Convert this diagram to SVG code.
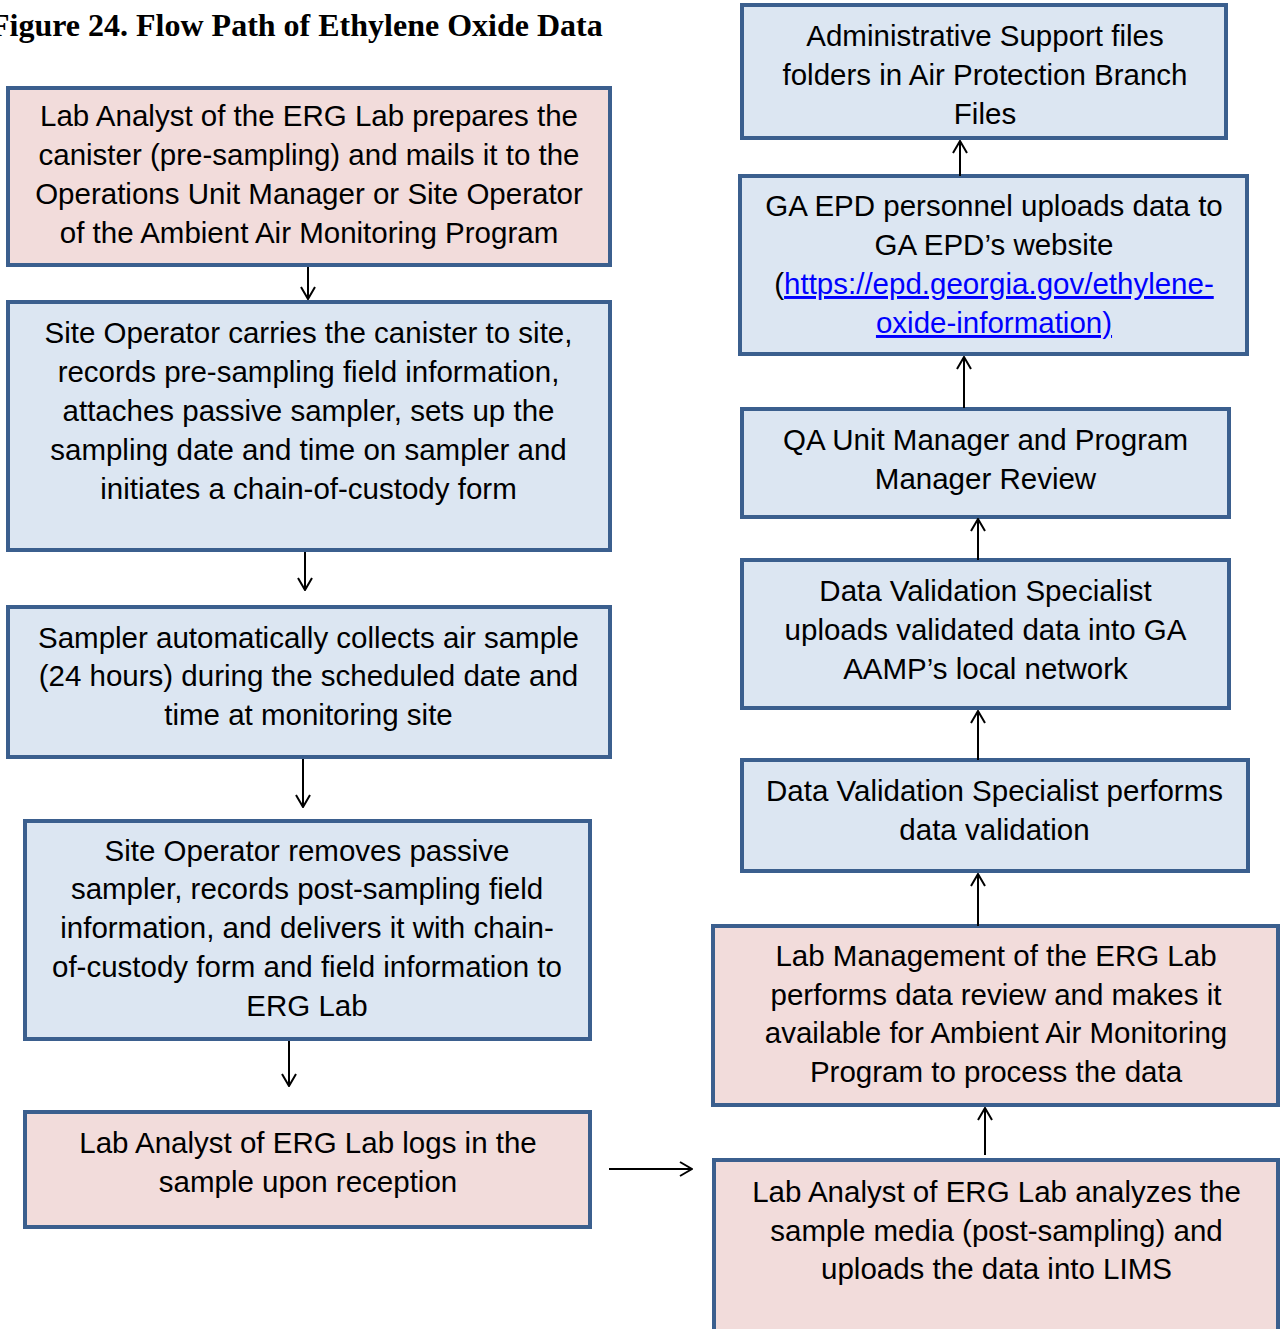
<svg xmlns="http://www.w3.org/2000/svg" width="1285" height="1329" viewBox="0 0 1285 1329">
<style>
.box{stroke:#3B5F8E;stroke-width:4}
.blue{fill:#DCE6F2}
.pink{fill:#F2DCDB}
.t{font-family:"Liberation Sans",Arial,sans-serif;font-size:29.5px;fill:#000;text-anchor:middle}
.title{font-family:"Liberation Serif","Times New Roman",serif;font-size:32px;font-weight:bold;fill:#000}
.link{fill:#0000FF;text-decoration:underline}
.conn{stroke:#000;stroke-width:2;fill:none}
</style>
<defs>
<marker id="ah" viewBox="0 0 14 16" refX="13" refY="8" markerWidth="14" markerHeight="16" markerUnits="userSpaceOnUse" orient="auto">
<path d="M1,1 L13,8 L1,15" fill="none" stroke="#000" stroke-width="2"/>
</marker>
</defs>
<text class="title" x="-10" y="36">Figure 24. Flow Path of Ethylene Oxide Data</text>

<g id="n1"><rect class="box pink" x="8" y="88" width="602" height="177"/>
<text class="t"><tspan x="309" y="126">Lab Analyst of the ERG Lab prepares the</tspan><tspan x="309" y="165">canister (pre-sampling) and mails it to the</tspan><tspan x="309" y="204">Operations Unit Manager or Site Operator</tspan><tspan x="309" y="243">of the Ambient Air Monitoring Program</tspan></text></g>

<g id="n2"><rect class="box blue" x="8" y="302" width="602" height="248"/>
<text class="t"><tspan x="308.5" y="343">Site Operator carries the canister to site,</tspan><tspan x="308.5" y="382">records pre-sampling field information,</tspan><tspan x="308.5" y="421">attaches passive sampler, sets up the</tspan><tspan x="308.5" y="460">sampling date and time on sampler and</tspan><tspan x="308.5" y="499">initiates a chain-of-custody form</tspan></text></g>

<g id="n3"><rect class="box blue" x="8" y="607" width="602" height="150"/>
<text class="t"><tspan x="308.5" y="648">Sampler automatically collects air sample</tspan><tspan x="308.5" y="686">(24 hours) during the scheduled date and</tspan><tspan x="308.5" y="725">time at monitoring site</tspan></text></g>

<g id="n4"><rect class="box blue" x="25" y="821" width="565" height="218"/>
<text class="t"><tspan x="307" y="861">Site Operator removes passive</tspan><tspan x="307" y="899">sampler, records post-sampling field</tspan><tspan x="307" y="938">information, and delivers it with chain-</tspan><tspan x="307" y="977">of-custody form and field information to</tspan><tspan x="307" y="1016">ERG Lab</tspan></text></g>

<g id="n5"><rect class="box pink" x="25" y="1112" width="565" height="115"/>
<text class="t"><tspan x="308" y="1153">Lab Analyst of ERG Lab logs in the</tspan><tspan x="308" y="1192">sample upon reception</tspan></text></g>

<g id="r1"><rect class="box blue" x="742" y="5" width="484" height="133"/>
<text class="t"><tspan x="985" y="46">Administrative Support files</tspan><tspan x="985" y="85">folders in Air Protection Branch</tspan><tspan x="985" y="124">Files</tspan></text></g>

<g id="r2"><rect class="box blue" x="740" y="176" width="507" height="178"/>
<text class="t"><tspan x="994" y="216">GA EPD personnel uploads data to</tspan><tspan x="994" y="255">GA EPD’s website</tspan><tspan x="994" y="294">(<tspan class="link">https://epd.georgia.gov/ethylene-</tspan></tspan><tspan class="link" x="994" y="333">oxide-information)</tspan></text></g>

<g id="r3"><rect class="box blue" x="742" y="409" width="487" height="108"/>
<text class="t"><tspan x="985.5" y="450">QA Unit Manager and Program</tspan><tspan x="985.5" y="489">Manager Review</tspan></text></g>

<g id="r4"><rect class="box blue" x="742" y="560" width="487" height="148"/>
<text class="t"><tspan x="985.5" y="601">Data Validation Specialist</tspan><tspan x="985.5" y="640">uploads validated data into GA</tspan><tspan x="985.5" y="679">AAMP’s local network</tspan></text></g>

<g id="r5"><rect class="box blue" x="742" y="760" width="506" height="111"/>
<text class="t"><tspan x="994.5" y="801">Data Validation Specialist performs</tspan><tspan x="994.5" y="840">data validation</tspan></text></g>

<g id="r6"><rect class="box pink" x="713" y="926" width="565" height="179"/>
<text class="t"><tspan x="996" y="966">Lab Management of the ERG Lab</tspan><tspan x="996" y="1005">performs data review and makes it</tspan><tspan x="996" y="1043">available for Ambient Air Monitoring</tspan><tspan x="996" y="1082">Program to process the data</tspan></text></g>

<g id="r7"><rect class="box pink" x="714" y="1160" width="564" height="180"/>
<text class="t"><tspan x="996.5" y="1202">Lab Analyst of ERG Lab analyzes the</tspan><tspan x="996.5" y="1241">sample media (post-sampling) and</tspan><tspan x="996.5" y="1279">uploads the data into LIMS</tspan></text></g>

<g id="connectors">
<line class="conn" x1="308" y1="267" x2="308" y2="299" marker-end="url(#ah)"/>
<line class="conn" x1="305" y1="552" x2="305" y2="590" marker-end="url(#ah)"/>
<line class="conn" x1="303" y1="759" x2="303" y2="807" marker-end="url(#ah)"/>
<line class="conn" x1="289" y1="1041" x2="289" y2="1086" marker-end="url(#ah)"/>
<line class="conn" x1="609" y1="1169" x2="692" y2="1169" marker-end="url(#ah)"/>
<line class="conn" x1="985" y1="1155" x2="985" y2="1108" marker-end="url(#ah)"/>
<line class="conn" x1="978" y1="926" x2="978" y2="874" marker-end="url(#ah)"/>
<line class="conn" x1="978" y1="760" x2="978" y2="711" marker-end="url(#ah)"/>
<line class="conn" x1="978" y1="560" x2="978" y2="519" marker-end="url(#ah)"/>
<line class="conn" x1="964" y1="408" x2="964" y2="357" marker-end="url(#ah)"/>
<line class="conn" x1="960" y1="176" x2="960" y2="141" marker-end="url(#ah)"/>
</g>
</svg>
